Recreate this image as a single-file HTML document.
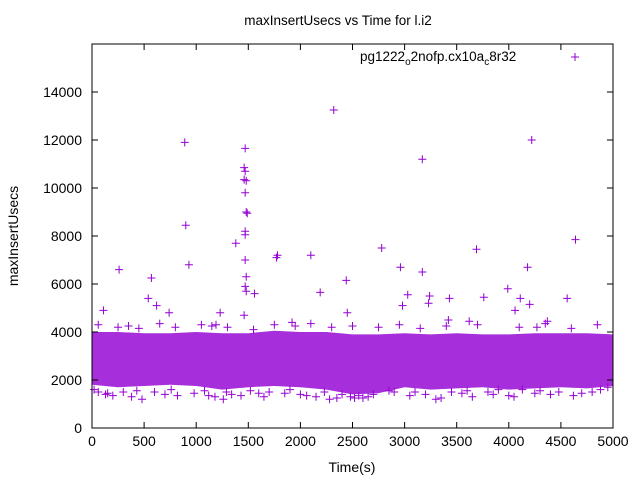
<!DOCTYPE html>
<html><head><meta charset="utf-8"><style>
body{margin:0;background:#fff;}
svg{display:block;font-family:"Liberation Sans",sans-serif;}
</style></head><body>
<svg id="c" width="640" height="480">
<rect width="640" height="480" fill="#fff"/>
<text x="338" y="25" font-size="13.5" text-anchor="middle">maxInsertUsecs vs Time for l.i2</text>
<text x="352" y="472" font-size="14" text-anchor="middle">Time(s)</text>
<text transform="translate(18,236) rotate(-90)" font-size="14" text-anchor="middle">maxInsertUsecs</text>
<g id="marks"></g>
<rect x="92" y="44" width="521" height="384" fill="none" stroke="#000" stroke-width="1"/>
<g id="axes"></g>
<g>
<text x="360" y="61" font-size="13.5">pg1222<tspan font-size="10" dy="4">o</tspan><tspan dy="-4">2nofp.cx10a</tspan><tspan font-size="10" dy="4">c</tspan><tspan dy="-4">8r32</tspan></text>
<path d="M571 57h8M575 53v8" stroke="#9400d3" stroke-width="1"/>
</g>
</svg>
<script>
const xTicks=[0,500,1000,1500,2000,2500,3000,3500,4000,4500,5000];
const yTicks=[0,2000,4000,6000,8000,10000,12000,14000];
const bandTimes=[0,250,500,750,1000,1250,1500,1750,2000,2250,2500,2750,3000,3250,3500,3750,4000,4250,4500,4750,5000];
const bandLow=[1800,1700,1750,1800,1750,1600,1700,1750,1700,1600,1400,1450,1700,1600,1650,1700,1600,1650,1700,1650,1750];
const bandHigh=[4000,4000,3950,3950,4000,3950,3950,4050,4000,4000,3900,3900,3950,3900,3950,3900,3900,3950,3950,3950,3900];
const outT=[890,900,930,260,570,540,620,740,1380,1470,1460,1470,1460,1480,1470,1480,1490,1470,1470,1470,1480,1470,1480,1460,1560,1780,1770,2100,2190,2320,2440,2780,2960,3030,2980,3170,3170,3240,3230,3430,3690,3760,3990,4060,4110,4180,4200,4220,4560,4640,4370,3420,3620,110,1230,1190,2450,4270,1920];
const outV=[11900,8450,6800,6600,6250,5400,5100,4800,7700,11650,10850,10700,10350,10300,9800,9000,8950,8200,8050,7000,6300,5900,5700,4700,5600,7200,7100,7200,5650,13250,6150,7500,6700,5550,5100,11200,6500,5500,5200,5400,7450,5450,5800,4900,5400,6700,5150,12000,5400,7850,4450,4500,4450,4900,4800,4300,4800,4200,4400];
const edgeT=[20,60,130,150,200,300,380,430,480,600,700,760,820,980,1080,1120,1180,1260,1290,1340,1430,1520,1600,1650,1700,1850,1900,2000,2060,2150,2230,2280,2350,2400,2480,2520,2560,2600,2650,2700,2850,2900,3050,3100,3200,3300,3350,3450,3550,3600,3650,3800,3850,3900,4000,4050,4130,4250,4300,4400,4480,4620,4700,4800,4880,4950,60,250,350,450,650,800,1050,1150,1300,1550,1750,1950,2100,2300,2500,2750,2950,3150,3400,3700,4100,4350,4600,4850];
const edgeV=[1600,1500,1400,1450,1350,1500,1300,1550,1200,1500,1400,1600,1350,1450,1550,1350,1300,1200,1500,1400,1350,1550,1450,1300,1500,1450,1600,1400,1350,1300,1500,1200,1250,1400,1300,1250,1350,1250,1300,1400,1550,1500,1350,1500,1400,1200,1250,1500,1450,1550,1300,1500,1400,1600,1350,1300,1600,1450,1550,1400,1500,1350,1450,1500,1600,1700,4300,4200,4250,4150,4350,4200,4300,4250,4200,4100,4300,4250,4350,4200,4250,4200,4300,4150,4250,4300,4200,4350,4150,4300];
const X=t=>92+t/5000*521;
const Y=v=>428-v/16000*384;
const NS='http://www.w3.org/2000/svg';
const marks=document.getElementById('marks'),axes=document.getElementById('axes');
let d='M'+bandTimes.map((t,i)=>X(t)+' '+Y(bandHigh[i])).join('L');
for(let i=bandTimes.length-1;i>=0;i--)d+='L'+X(bandTimes[i])+' '+Y(bandLow[i]);
const band=document.createElementNS(NS,'path');
band.setAttribute('d',d+'Z');band.setAttribute('fill','#9400d3');band.setAttribute('fill-opacity','0.82');


marks.appendChild(band);
function plus(t,v,name){const p=document.createElementNS(NS,'path');const x=X(t),y=Y(v);
p.setAttribute('d',`M${x-4} ${y}h8M${x} ${y-4}v8`);p.setAttribute('stroke','#9400d3');p.setAttribute('stroke-width','1');


marks.appendChild(p);}
edgeT.forEach((t,i)=>plus(t,edgeV[i],'data-point'));
outT.forEach((t,i)=>plus(t,outV[i],'outlier-point'));
function line(x1,y1,x2,y2){const l=document.createElementNS(NS,'line');l.setAttribute('x1',x1);l.setAttribute('y1',y1);l.setAttribute('x2',x2);l.setAttribute('y2',y2);l.setAttribute('stroke','#000');


axes.appendChild(l);}
function txt(x,y,s,a,name){const e=document.createElementNS(NS,'text');e.setAttribute('x',x);e.setAttribute('y',y);e.setAttribute('font-size','14');e.setAttribute('text-anchor',a);e.textContent=s;


axes.appendChild(e);}
xTicks.forEach(t=>{const x=X(t);line(x,428,x,422);line(x,44,x,50);txt(x,446,String(t),'middle','x-tick-label');});
yTicks.forEach(v=>{const y=Y(v);line(92,y,98,y);line(613,y,607,y);txt(82,y+5,String(v),'end','y-tick-label');});
</script>
</body></html>
